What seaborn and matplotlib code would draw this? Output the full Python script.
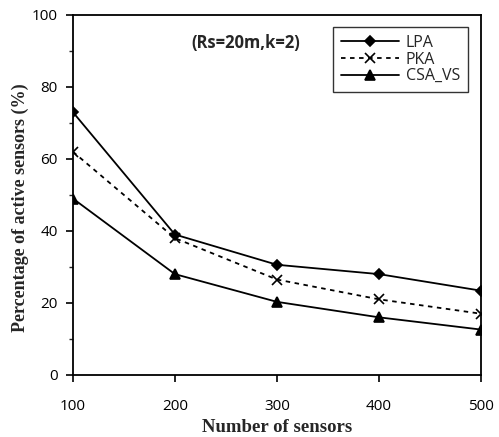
import pandas as pd
import matplotlib.pyplot as plt
import seaborn as sns
from matplotlib.ticker import MultipleLocator

sns.set_style('ticks')
plt.rcParams['font.family'] = ['Open Sans', 'DejaVu Sans']

# 数据
sensors = [100, 200, 300, 400, 500]
lpa = [73, 39, 30.6, 28, 23.4]
pka = [62, 38, 26.5, 21, 17]
csa_vs = [49, 28, 20.3, 16, 12.6]

series = [
    ('LPA', lpa, 'D', '-', 5.5),
    ('PKA', pka, 'x', (0, (2.5, 2.5)), 7.5),
    ('CSA_VS', csa_vs, '^', '-', 7),
]

fig = plt.figure(figsize=(4.99, 4.37), dpi=100)
ax = fig.add_axes([0.146, 0.142, 0.818, 0.824])

for name, vals, mk, ls, ms in series:
    sns.lineplot(x=sensors, y=vals, label=name, color='black', marker=mk,
                 linestyle=ls, markersize=ms, linewidth=1.3, markeredgewidth=1.2,
                 markeredgecolor='black', ax=ax)

ax.set_xlim(100, 500)
ax.set_ylim(0, 100)
ax.set_xticks(sensors)
ax.yaxis.set_major_locator(MultipleLocator(20))
ax.yaxis.set_minor_locator(MultipleLocator(10))
ax.tick_params(axis='both', which='major', direction='out', length=5, width=1.2,
               labelsize=11, colors='black', pad=6)
ax.tick_params(axis='y', which='minor', direction='out', length=3, width=1)
ax.tick_params(axis='x', pad=12)
for s in ax.spines.values():
    s.set_linewidth(1.3)
    s.set_color('black')
    s.set_visible(True)

ax.set_xlabel('Number of sensors', family='Liberation Serif', fontweight='bold', fontsize=13.5)
ax.set_ylabel('Percentage of active sensors (%)', family='Liberation Serif',
              fontweight='bold', fontsize=13)
ax.yaxis.set_label_coords(-0.108, 0.465)

ax.text(0.29, 0.922, '(Rs=20m,k=2)', transform=ax.transAxes, fontsize=12,
        fontweight='bold', ha='left', va='center')

leg = ax.legend(loc='upper right', bbox_to_anchor=(0.968, 0.967), frameon=True,
                fancybox=False, edgecolor='black', fontsize=11.5, handlelength=3.6,
                labelspacing=0.05, borderpad=0.5, handletextpad=0.45, borderaxespad=0)
leg.get_frame().set_linewidth(1)

fig.savefig('out.png', dpi=100)
